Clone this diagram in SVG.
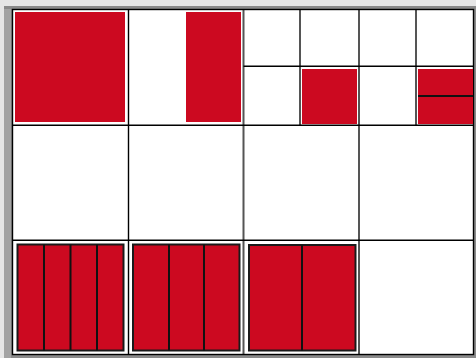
<svg xmlns="http://www.w3.org/2000/svg" width="476" height="358" viewBox="0 0 476 358">
<style>
.red{fill:#cc0920}
.bar{fill:#cc0920;stroke:#1a1a1a;stroke-width:2}
.div{stroke:#111;stroke-width:2}
.grid{stroke:#000;stroke-width:1.4;fill:none}
.sub{stroke:#555;stroke-width:2}
</style>
<rect x="0" y="0" width="476" height="358" fill="#e6e6e6"/>
<rect x="4" y="6" width="472" height="352" fill="#8a8a8a"/>
<rect x="4" y="9" width="7" height="349" fill="#a3a3a3"/>
<rect x="12.5" y="9.5" width="461" height="345" fill="#fff"/>
<g id="connectors">
<line class="sub" x1="300" y1="9.5" x2="300" y2="125.5"/>
<line class="sub" x1="416" y1="9.5" x2="416" y2="125.5"/>
<line class="sub" x1="243.5" y1="9.5" x2="243.5" y2="354.5"/>
<line class="sub" x1="359" y1="9.5" x2="359" y2="354.5"/>
<line class="grid" x1="243.5" y1="66.3" x2="473.5" y2="66.3"/>
<line class="grid" x1="128.5" y1="9.5" x2="128.5" y2="354.5"/>
<line class="grid" x1="12.5" y1="125.3" x2="473.5" y2="125.3"/>
<line class="grid" x1="12.5" y1="240.3" x2="473.5" y2="240.3"/>
<rect class="grid" x="12.5" y="9.5" width="461" height="345"/>
</g>
<g id="whole">
<rect class="red" x="15" y="12" width="110" height="110"/>
</g>
<g id="half">
<rect class="red" x="186" y="12" width="55" height="110"/>
</g>
<g id="quarter">
<rect class="red" x="302" y="69" width="55" height="55"/>
</g>
<g id="quarter-split">
<rect class="red" x="418" y="69" width="55" height="55"/>
<line class="div" x1="418" y1="96" x2="473" y2="96"/>
</g>
<g id="fourths">
<rect class="bar" x="17.5" y="244.5" width="106" height="106"/>
<line class="div" x1="44" y1="244.5" x2="44" y2="350.5"/>
<line class="div" x1="70.5" y1="244.5" x2="70.5" y2="350.5"/>
<line class="div" x1="97" y1="244.5" x2="97" y2="350.5"/>
</g>
<g id="thirds">
<rect class="bar" x="133" y="244.5" width="106.5" height="106"/>
<line class="div" x1="169" y1="244.5" x2="169" y2="350.5"/>
<line class="div" x1="204" y1="244.5" x2="204" y2="350.5"/>
</g>
<g id="halves">
<rect class="bar" x="249" y="245" width="106.5" height="105.5"/>
<line class="div" x1="302" y1="245" x2="302" y2="350.5"/>
</g>
</svg>
